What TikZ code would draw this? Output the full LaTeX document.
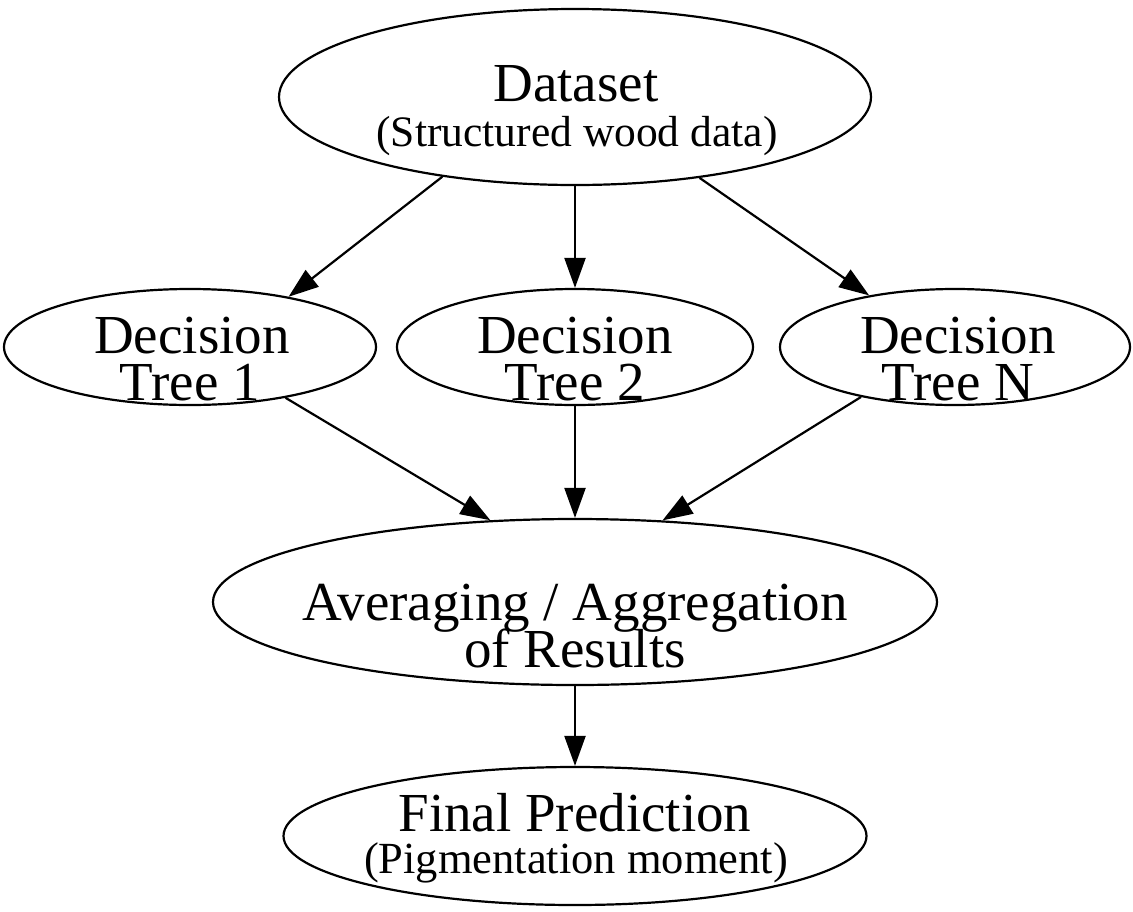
\documentclass[tikz,border=0pt]{standalone}
\usepackage{fontspec}
\setmainfont{Liberation Serif}
\usetikzlibrary{arrows.meta,shapes.geometric}
\begin{document}
\begin{tikzpicture}[x=1pt,y=-1pt,
  oval/.style={draw, ellipse, line width=2.2pt, inner sep=0pt},
  big/.style={font=\fontsize{55}{47}\selectfont, inner sep=0pt, anchor=base},
  small/.style={font=\fontsize{43.5}{40}\selectfont, inner sep=0pt, anchor=base},
  first/.style={text height=36pt, text depth=0pt},
  second/.style={text height=30pt, text depth=12pt},
  link/.style={line width=2.2pt, -{Triangle[length=30pt,width=21pt]}}]
\useasboundingbox (0,0) rectangle (1133,911);

% ellipses
\node[oval, minimum width=592pt, minimum height=176pt] (ds)  at (575,97)  {};
\node[oval, minimum width=372pt, minimum height=116pt] (dt1) at (190,347) {};
\node[oval, minimum width=356pt, minimum height=116pt] (dt2) at (575,347) {};
\node[oval, minimum width=350pt, minimum height=116pt] (dtn) at (955,347) {};
\node[oval, minimum width=724pt, minimum height=166pt] (avg) at (575,602) {};
\node[oval, minimum width=583pt, minimum height=138pt] (fin) at (575,836) {};

% labels
\node[big, first]    (ds-a)  at (576,101) {Dataset};
\node[small, second] (ds-b)  at (577,146) {(Structured wood data)};
\node[big, first]    (dt1-a) at (192,353) {Decision};
\node[big, second]   (dt1-b) at (190,400) {Tree 1};
\node[big, first]    (dt2-a) at (575,353) {Decision};
\node[big, second]   (dt2-b) at (575,400) {Tree 2};
\node[big, first]    (dtn-a) at (958,353) {Decision};
\node[big, second]   (dtn-b) at (958,400) {Tree N};
\node[big, first]    (avg-a) at (575,620) {Averaging / Aggregation};
\node[big, second]   (avg-b) at (575,667) {of Results};
\node[big, first]    (fin-a) at (575,831) {Final Prediction};
\node[small, second, font=\fontsize{44.5}{40}\selectfont] (fin-b) at (576,873) {(Pigmentation moment)};

% connectors
\draw[link] (ds.211.8) -- (dt1.27.6);
\draw[link] (ds.south) -- (dt2.north);
\draw[link] (ds.327.4) -- (dtn.149.4);
\draw[link] (dt1.332.4) -- (avg.136);
\draw[link] (dt2.south) -- (avg.north);
\draw[link] (dtn.208.8) -- (avg.43);
\draw[link] (avg.south) -- (fin.north);
\end{tikzpicture}
\end{document}
